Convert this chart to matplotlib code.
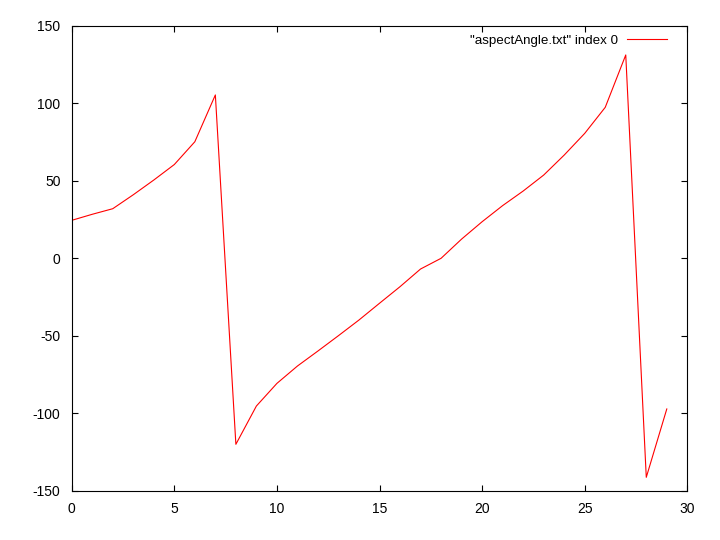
import numpy as np
import matplotlib
matplotlib.use("Agg")
import matplotlib.pyplot as plt

plt.rcParams['font.family'] = ['Liberation Sans', 'DejaVu Sans']
plt.rcParams['axes.unicode_minus'] = False

# data
x = list(range(30))
angle = [24.5, 28.4, 32.0, 41.0, 50.5, 60.5, 75.2, 105.4, -120.0, -95.3,
         -80.7, -69.5, -59.8, -49.9, -39.8, -29.0, -18.3, -6.9, 0.0, 12.4,
         23.6, 34.0, 43.4, 53.7, 66.6, 80.6, 97.4, 131.2, -141.3, -97.2]
series_label = '"aspectAngle.txt" index 0'
xticks = [0, 5, 10, 15, 20, 25, 30]
yticks = [-150, -100, -50, 0, 50, 100, 150]

fig = plt.figure(figsize=(7.2, 5.4), dpi=100)
ax = fig.add_axes([0.0996, 0.0911, 0.855, 0.8611])

ax.plot(x, angle, color='red', linewidth=0.8, label=series_label)

ax.set_xlim(0, 30)
ax.set_ylim(-150, 150)
ax.set_xticks(xticks)
ax.set_yticks(yticks)
ax.tick_params(direction='in', length=4, width=0.8, top=True, right=True,
               labelsize=10, pad=8)
for s in ax.spines.values():
    s.set_linewidth(0.8)

leg = ax.legend(loc='upper right', bbox_to_anchor=(0.982, 1.002),
                frameon=False, fontsize=9.6,
                markerfirst=False, handlelength=3.0, handletextpad=0.7,
                borderaxespad=0.3)

fig.savefig('out.png', dpi=100)
